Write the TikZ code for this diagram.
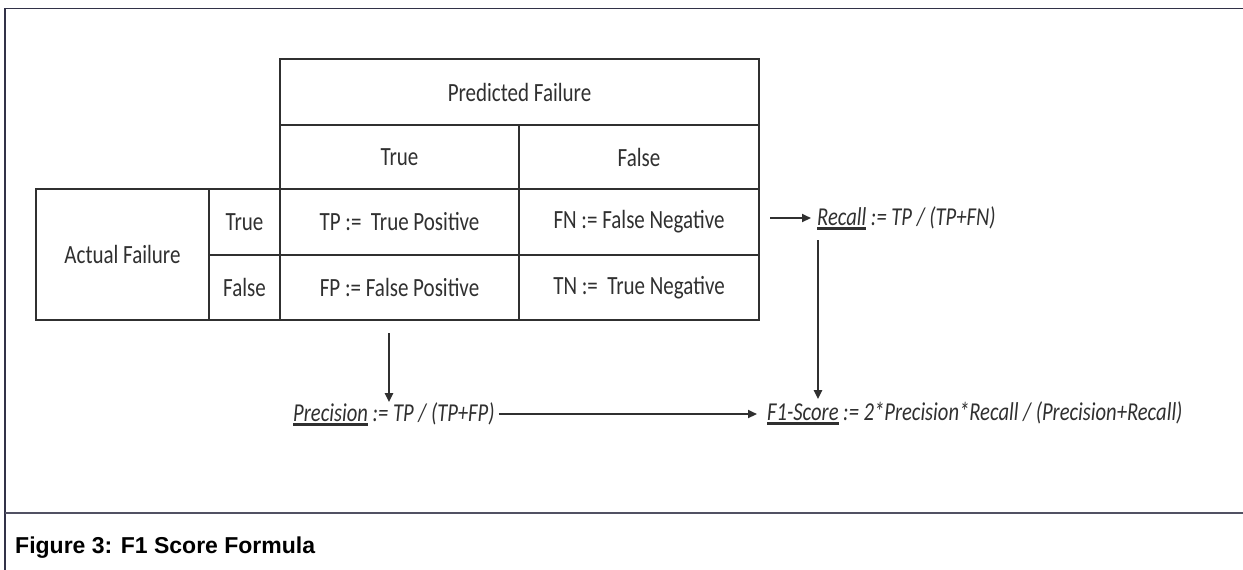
\documentclass[tikz,border=0pt]{standalone}
\usepackage{fontspec}
\usepackage{graphicx}
\setmainfont{Carlito}
\newfontfamily\capfont{Liberation Sans}
\usetikzlibrary{arrows.meta}
\definecolor{ink}{RGB}{48,48,48}
\definecolor{framec}{RGB}{50,50,72}
\newcommand\vs[1]{\scalebox{1}[1.25]{#1}}
\newcommand\ulx[1]{\setbox0\hbox{#1}\rlap{\rule[-3.5pt]{\wd0}{1.8pt}}\box0\relax}
\begin{document}
\begin{tikzpicture}[x=1pt,y=-1pt,
  cell/.style={draw=ink, line width=2.2pt, rectangle, inner sep=0pt, outer sep=0pt, text=ink,
    font=\fontsize{21}{25}\selectfont},
  formula/.style={anchor=west, inner sep=0pt, text=ink, font=\fontsize{20.6}{25}\selectfont\itshape},
  arr/.style={draw=ink, line width=2.2pt, -{Triangle[length=9pt,width=8pt]}}]
\useasboundingbox (0,0) rectangle (1243,570);
\fill[white] (0,0) rectangle (1243,570);
% frame
\draw[framec, line width=1.6pt] (1243,8.5) -- (5,8.5) -- (5,570);
\draw[framec!85, line width=1.4pt] (5,513) -- (1243,513);
% table
\node[cell, minimum width=479pt, minimum height=66pt] (head) at (519.5,92) {\vs{Predicted Failure}};
\node[cell, minimum width=239pt, minimum height=64pt] (colT) at (399.5,157) {\vs{True}};
\node[cell, minimum width=240pt, minimum height=64pt] (colF) at (639,157) {\vs{False}};
\node[cell, minimum width=173pt, minimum height=131pt] (act) at (122.5,254.5) {\vs{Actual Failure}};
\node[cell, minimum width=71pt, minimum height=66pt] (rT) at (244.5,222) {\vs{True}};
\node[cell, minimum width=71pt, minimum height=65pt] (rF) at (244.5,287.5) {\vs{False}};
\node[cell, minimum width=239pt, minimum height=66pt] (tp) at (399.5,222) {\vs{TP :=\ \ True Positive}};
\node[cell, minimum width=240pt, minimum height=66pt] (fn) at (639,222) {\vs{FN := False Negative}};
\node[cell, minimum width=239pt, minimum height=65pt] (fp) at (399.5,287.5) {\vs{FP := False Positive}};
\node[cell, minimum width=240pt, minimum height=65pt] (tn) at (639,287.5) {\vs{TN :=\ \ True Negative}};
% formulas
\node[formula] (recall) at (817,218) {\vs{\ulx{Recall} := TP / (TP+FN)}};
\node[formula] (prec) at (293,414) {\vs{\ulx{Precision} := TP / (TP+FP)}};
\node[formula] (f1) at (767,413) {\vs{\ulx{F1-Score} := 2*Precision*Recall / (Precision+Recall)}};
% arrows
\coordinate (pa) at (389,333);
\coordinate (ra) at (818,240);
\draw[arr, shorten <=11pt, shorten >=6pt] (fn.east |- recall.west) -- (recall.west);
\draw[arr] (pa) -- (pa |- prec.north);
\draw[arr, shorten <=4pt, shorten >=10pt] (prec.east) -- (prec.east -| f1.west);
\draw[arr, shorten >=2pt] (ra) -- (ra |- f1.north);
% caption
\node[anchor=base west, inner sep=0pt, text=black, font=\capfont\bfseries\fontsize{23}{27}\selectfont] (cap) at (15,553) {Figure 3: F1 Score Formula};
\end{tikzpicture}
\end{document}
